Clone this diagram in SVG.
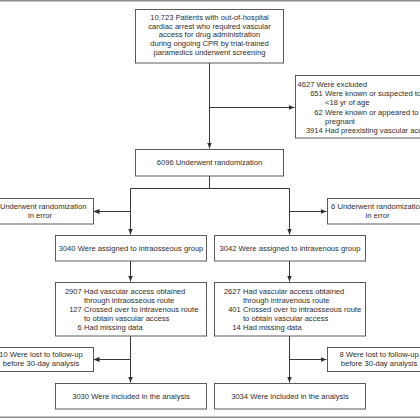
<svg xmlns="http://www.w3.org/2000/svg" width="420" height="420" viewBox="0 0 420 420">
<defs>
<style>
.box{fill:#fff;stroke:#5a5a5a;stroke-width:1}
.ln{fill:none;stroke:#3a3a3a;stroke-width:1}
text{font-family:"Liberation Sans",Arial,sans-serif;font-size:7.6px;fill:#2e2e2e}
.c{text-anchor:middle}
.e{text-anchor:end}
.rule{stroke:#8a8a8a;stroke-width:1.6}
</style>
<marker id="ah" viewBox="0 0 6 6" refX="6" refY="3" markerWidth="6" markerHeight="6" markerUnits="userSpaceOnUse" orient="auto">
<path d="M0,0.6 L6,3 L0,5.4 Z" fill="#2e2e2e"/>
</marker>
</defs>
<rect width="420" height="420" fill="#fff"/>
<line class="rule" x1="0" y1="0.8" x2="420" y2="0.8"/>
<line class="rule" x1="0" y1="417.2" x2="420" y2="417.2"/>

<g id="connectors">
<path class="ln" d="M209.5,63 V148.5" marker-end="url(#ah)"/>
<path class="ln" d="M209.5,107.5 H294.5" marker-end="url(#ah)"/>
<path class="ln" d="M209.5,176 V188.5 M130.5,188.5 H289.5"/>
<path class="ln" d="M130.5,188.5 V234.5" marker-end="url(#ah)"/>
<path class="ln" d="M289.5,188.5 V234.5" marker-end="url(#ah)"/>
<path class="ln" d="M130.5,211.5 H93.5" marker-end="url(#ah)"/>
<path class="ln" d="M289.5,211.5 H326.5" marker-end="url(#ah)"/>
<path class="ln" d="M130.5,261 V281.5" marker-end="url(#ah)"/>
<path class="ln" d="M289.5,261 V281.5" marker-end="url(#ah)"/>
<path class="ln" d="M130.5,336 V382.5" marker-end="url(#ah)"/>
<path class="ln" d="M289.5,336 V382.5" marker-end="url(#ah)"/>
<path class="ln" d="M130.5,359.5 H93.5" marker-end="url(#ah)"/>
<path class="ln" d="M289.5,359.5 H326.5" marker-end="url(#ah)"/>
</g>

<g id="screening">
<rect class="box" x="135.5" y="9.5" width="148" height="53.5"/>
<text class="c" x="209.5" y="19.7">10,723 Patients with out-of-hospital</text>
<text class="c" x="209.5" y="28.5">cardiac arrest who required vascular</text>
<text class="c" x="209.5" y="37.3">access for drug administration</text>
<text class="c" x="209.5" y="46.1">during ongoing CPR by trial-trained</text>
<text class="c" x="209.5" y="54.9">paramedics underwent screening</text>
</g>

<g id="excluded">
<rect class="box" x="295.5" y="75.5" width="150" height="62.5"/>
<text x="297.5" y="86.7">4627 Were excluded</text>
<text class="e" x="322.8" y="96">651</text>
<text x="325" y="96">Were known or suspected to be</text>
<text x="325" y="105.3">&lt;18 yr of age</text>
<text class="e" x="322.8" y="114.6">62</text>
<text x="325" y="114.6">Were known or appeared to be</text>
<text x="325" y="123.9">pregnant</text>
<text class="e" x="322.8" y="133.2">3914</text>
<text x="325" y="133.2">Had preexisting vascular access</text>
</g>

<g id="randomized">
<rect class="box" x="135.5" y="149.5" width="148" height="26.5"/>
<text class="c" x="209.5" y="165.3">6096 Underwent randomization</text>
</g>

<g id="error-io">
<rect class="box" x="-13.5" y="198.5" width="107" height="25.5"/>
<text class="c" x="40" y="209.2">8 Underwent randomization</text>
<text class="c" x="40" y="218.2">in error</text>
</g>

<g id="error-iv">
<rect class="box" x="327.5" y="198.5" width="102" height="25.5"/>
<text class="c" x="377.5" y="209.2">6 Underwent randomization</text>
<text class="c" x="377.5" y="218.2">in error</text>
</g>

<g id="assigned-io">
<rect class="box" x="55.5" y="235.5" width="151" height="25.5"/>
<text class="c" x="131" y="250.8">3040 Were assigned to intraosseous group</text>
</g>

<g id="assigned-iv">
<rect class="box" x="214.5" y="235.5" width="151" height="25.5"/>
<text class="c" x="290" y="250.8">3042 Were assigned to intravenous group</text>
</g>

<g id="access-io">
<rect class="box" x="55.5" y="282.5" width="151" height="53.5"/>
<text class="e" x="81.8" y="293.7">2907</text>
<text x="84" y="293.7">Had vascular access obtained</text>
<text x="84" y="302.7">through intraosseous route</text>
<text class="e" x="81.8" y="311.7">127</text>
<text x="84" y="311.7">Crossed over to intravenous route</text>
<text x="84" y="320.7">to obtain vascular access</text>
<text class="e" x="81.8" y="329.7">6</text>
<text x="84" y="329.7">Had missing data</text>
</g>

<g id="access-iv">
<rect class="box" x="214.5" y="282.5" width="151" height="53.5"/>
<text class="e" x="240.8" y="293.7">2627</text>
<text x="243" y="293.7">Had vascular access obtained</text>
<text x="243" y="302.7">through intravenous route</text>
<text class="e" x="240.8" y="311.7">401</text>
<text x="243" y="311.7">Crossed over to intraosseous route</text>
<text x="243" y="320.7">to obtain vascular access</text>
<text class="e" x="240.8" y="329.7">14</text>
<text x="243" y="329.7">Had missing data</text>
</g>

<g id="lost-io">
<rect class="box" x="-12.5" y="347.5" width="106" height="24"/>
<text class="c" x="41" y="357.4">10 Were lost to follow-up</text>
<text class="c" x="41" y="366.4">before 30-day analysis</text>
</g>

<g id="lost-iv">
<rect class="box" x="327.5" y="347.5" width="104" height="24"/>
<text class="c" x="379" y="357.4">8 Were lost to follow-up</text>
<text class="c" x="379" y="366.4">before 30-day analysis</text>
</g>

<g id="analysis-io">
<rect class="box" x="55.5" y="383.5" width="151" height="25.5"/>
<text class="c" x="131" y="398.8">3030 Were included in the analysis</text>
</g>

<g id="analysis-iv">
<rect class="box" x="214.5" y="383.5" width="151" height="25.5"/>
<text class="c" x="290" y="398.8">3034 Were included in the analysis</text>
</g>
</svg>
